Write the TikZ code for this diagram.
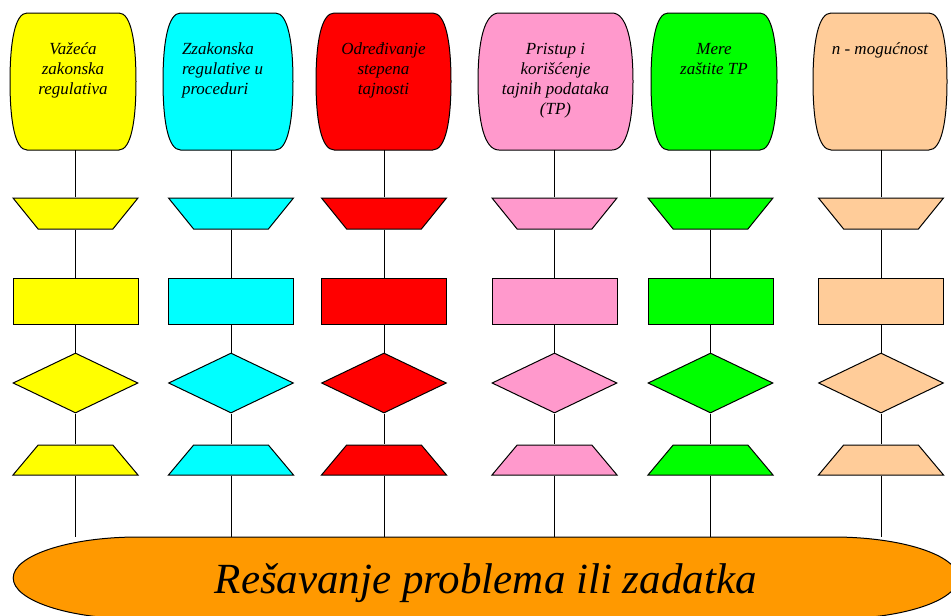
\documentclass[tikz,border=0pt]{standalone}
\usepackage{fontspec}
\setmainfont{Liberation Serif}
\usetikzlibrary{shapes.geometric}

\definecolor{yel}{HTML}{FFFF00}
\definecolor{cyn}{HTML}{00FFFF}
\definecolor{rd}{HTML}{FF0000}
\definecolor{pinkish}{HTML}{FF99CC}
\definecolor{grn}{HTML}{00FF00}
\definecolor{peach}{HTML}{FFCC99}
\definecolor{orangish}{HTML}{FF9900}

% centre x, centre y, width, fill
\newcommand\barrel[4]{%
  \pgfmathsetmacro\hw{#3/2}
  \pgfmathsetmacro\xa{0.73*\hw}
  \pgfmathsetmacro\xb{0.92*\hw}
  \filldraw[fill=#4, line width=1pt, shift={(#1,#2)}]
    (-\xa,68.5) -- (\xa,68.5)
    .. controls (\xb,68.5) and (\hw,40) .. (\hw,0)
    .. controls (\hw,-40) and (\xb,-68.5) .. (\xa,-68.5)
    -- (-\xa,-68.5)
    .. controls (-\xb,-68.5) and (-\hw,-40) .. (-\hw,0)
    .. controls (-\hw,40) and (-\xb,68.5) .. (-\xa,68.5) -- cycle;
}

\tikzset{
  label box/.style={minimum height=137pt, inner sep=0pt,
    font=\fontsize{17}{20}\selectfont\itshape},
  funnel/.style={trapezium, trapezium angle=51, trapezium stretches body=true,
    shape border rotate=180, minimum width=125pt, text height=31pt, text depth=0pt,
    inner sep=0pt, draw, line width=1pt, fill=#1},
  tray/.style={trapezium, trapezium angle=50, trapezium stretches body=true,
    minimum width=125pt, text height=30pt, text depth=0pt,
    inner sep=0pt, draw, line width=1pt, fill=#1},
  block/.style={rectangle, draw, line width=1pt, minimum width=125pt,
    minimum height=46pt, inner sep=0pt, fill=#1},
  choice/.style={diamond, draw, line width=1pt, minimum width=125pt,
    minimum height=60pt, inner sep=0pt, fill=#1},
  goal/.style={minimum width=945pt, minimum height=82pt, inner sep=0pt,
    text height=34pt, text depth=4pt,
    font=\fontsize{43}{50}\selectfont\itshape},
  link/.style={line width=0.8pt},
}

\begin{document}
\begin{tikzpicture}[x=1pt, y=1pt]
\useasboundingbox (0,0) rectangle (951,-616);
\clip (0,0) rectangle (951,-616);

% top boxes
\barrel{73}{-81.5}{126}{yel}
\barrel{228}{-81.5}{130}{cyn}
\barrel{383.5}{-81.5}{135}{rd}
\barrel{555.5}{-81.5}{155}{pinkish}
\barrel{714}{-81.5}{126}{grn}
\barrel{880}{-81.5}{134}{peach}
\path (73,-81.5) node[label box, minimum width=126pt] (T1)
  {\parbox[c][82pt][t]{112pt}{\centering\strut Važeća\\zakonska\\regulativa}};
\path (228,-81.5) node[label box, minimum width=130pt] (T2)
  {\parbox[c][82pt][t]{92pt}{\raggedright\strut Zzakonska\\regulative u\\proceduri}};
\path (383.5,-81.5) node[label box, minimum width=135pt] (T3)
  {\parbox[c][82pt][t]{112pt}{\centering\strut Određivanje\\stepena\\tajnosti}};
\path (555.5,-81.5) node[label box, minimum width=155pt] (T4)
  {\parbox[c][82pt][t]{130pt}{\centering\strut Pristup i\\korišćenje\\tajnih podataka\\(TP)}};
\path (714,-81.5) node[label box, minimum width=126pt] (T5)
  {\parbox[c][82pt][t]{112pt}{\centering\strut Mere\\zaštite TP}};
\path (880,-81.5) node[label box, minimum width=134pt] (T6)
  {\parbox[c][82pt][t]{120pt}{\centering\strut n - mogućnost}};

% bottom goal
\filldraw[fill=orangish, line width=1pt] (138.2,-537) -- (833.2,-537)
  arc[start angle=90, end angle=-90, x radius=125, y radius=41]
  -- (138.2,-619) arc[start angle=270, end angle=90, x radius=125, y radius=41] -- cycle;
\path (485.7,-578) node[goal] (G) {Rešavanje problema ili zadatka};

% columns
\path (75.5,-213.5) node[funnel=yel] (P1) {};
\path (75.5,-301) node[block=yel] (R1) {};
\path (75.5,-383) node[choice=yel] (D1) {};
\path (75.5,-460) node[tray=yel] (Q1) {};

\path (231,-213.5) node[funnel=cyn] (P2) {};
\path (231,-301) node[block=cyn] (R2) {};
\path (231,-383) node[choice=cyn] (D2) {};
\path (231,-460) node[tray=cyn] (Q2) {};

\path (384,-213.5) node[funnel=rd] (P3) {};
\path (384,-301) node[block=rd] (R3) {};
\path (384,-383) node[choice=rd] (D3) {};
\path (384,-460) node[tray=rd] (Q3) {};

\path (554.5,-213.5) node[funnel=pinkish] (P4) {};
\path (554.5,-301) node[block=pinkish] (R4) {};
\path (554.5,-383) node[choice=pinkish] (D4) {};
\path (554.5,-460) node[tray=pinkish] (Q4) {};

\path (710.5,-213.5) node[funnel=grn] (P5) {};
\path (710.5,-301) node[block=grn] (R5) {};
\path (710.5,-383) node[choice=grn] (D5) {};
\path (710.5,-460) node[tray=grn] (Q5) {};

\path (881,-213.5) node[funnel=peach] (P6) {};
\path (881,-301) node[block=peach] (R6) {};
\path (881,-383) node[choice=peach] (D6) {};
\path (881,-460) node[tray=peach] (Q6) {};

% links
\draw[link] (P1) -- (P1 |- T1.south);
\draw[link] (P2) -- (P2 |- T2.south);
\draw[link] (P3) -- (P3 |- T3.south);
\draw[link] (P4) -- (P4 |- T4.south);
\draw[link] (P5) -- (P5 |- T5.south);
\draw[link] (P6) -- (P6 |- T6.south);
\draw[link] (P1) -- (R1) -- (D1) -- (Q1) -- (Q1 |- G.north);
\draw[link] (P2) -- (R2) -- (D2) -- (Q2) -- (Q2 |- G.north);
\draw[link] (P3) -- (R3) -- (D3) -- (Q3) -- (Q3 |- G.north);
\draw[link] (P4) -- (R4) -- (D4) -- (Q4) -- (Q4 |- G.north);
\draw[link] (P5) -- (R5) -- (D5) -- (Q5) -- (Q5 |- G.north);
\draw[link] (P6) -- (R6) -- (D6) -- (Q6) -- (Q6 |- G.north);
\end{tikzpicture}
\end{document}
